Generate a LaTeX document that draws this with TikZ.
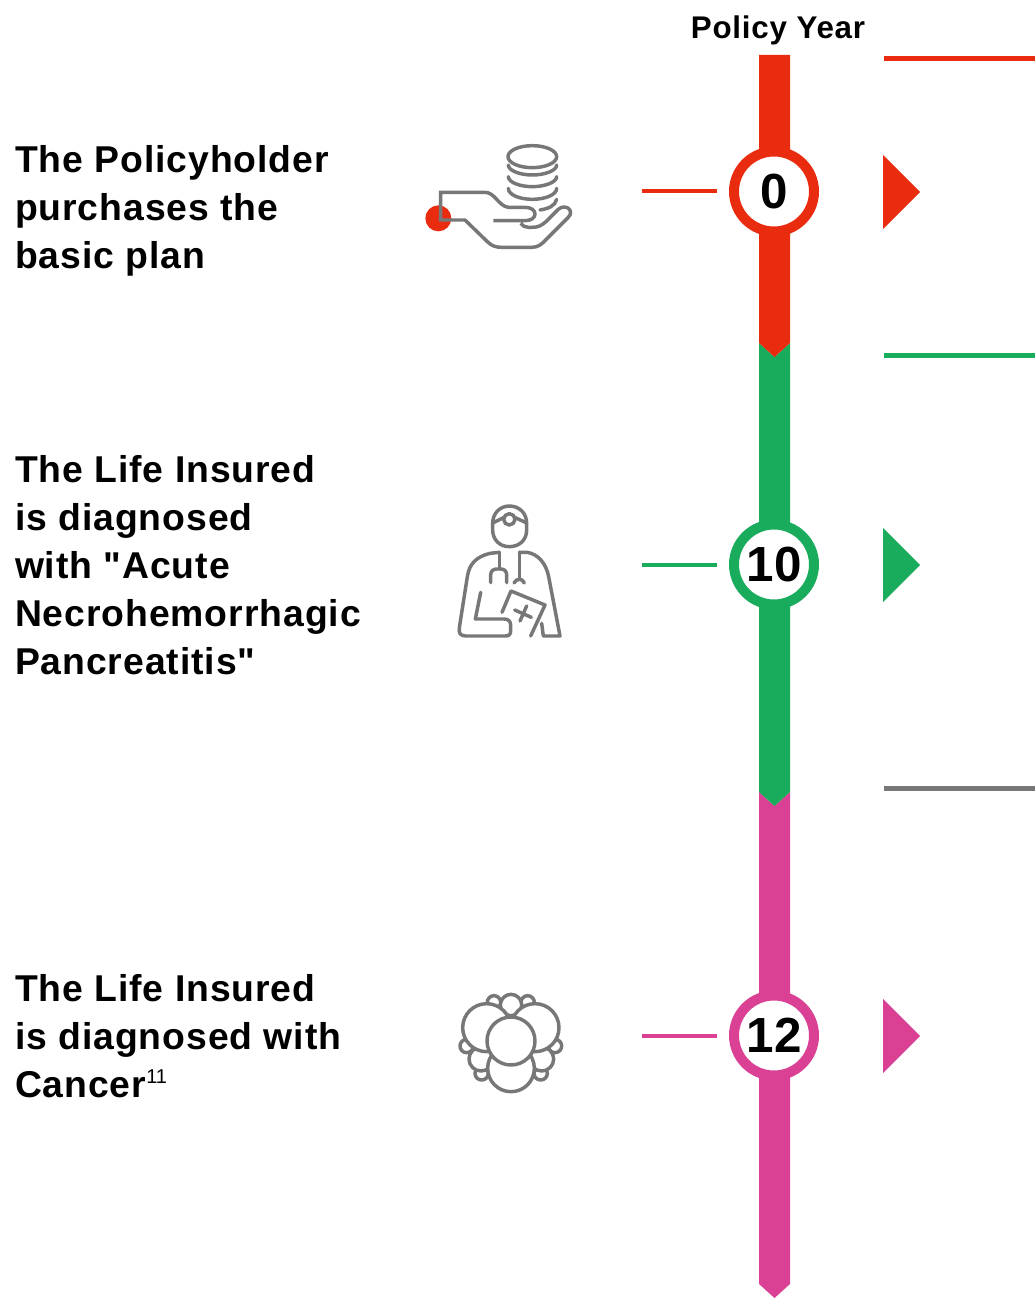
\documentclass[tikz,border=0pt]{standalone}
\usepackage{fontspec}
\setmainfont{Liberation Sans}[Ligatures=TeXOff,LetterSpace=2.5]
\definecolor{cred}{HTML}{E92C10}
\definecolor{cgreen}{HTML}{19AC5D}
\definecolor{cpink}{HTML}{DA4195}
\definecolor{cgray}{HTML}{777777}
\tikzset{
  lab/.style={anchor=north west,inner sep=0pt,outer sep=0pt,align=left,font=\fontsize{28}{36}\selectfont\bfseries,text=black},
  stopc/.style={circle,draw=#1,fill=white,line width=7.5pt,minimum size=60pt,inner sep=0pt,font=\fontsize{37}{40}\selectfont\bfseries\addfontfeature{LetterSpace=0},text=black},
  leader/.style={draw=#1,line width=3pt,shorten >=9pt},
  rule/.style={draw=#1,line width=3.8pt},
  tri/.style={fill=#1,draw=none},
  ico/.style={draw=cgray,line width=2.6pt,line cap=round,line join=round},
  blob/.style={ico,fill=white},
}
\begin{document}
\begin{tikzpicture}[x=0.75pt,y=-0.75pt]
\useasboundingbox (0,0) rectangle (1035,1298);
\fill[white] (0,0) rectangle (1035,1298);
% bars
\fill[cpink] (759,792)--(774.5,806)--(790,792)--(790,1284)--(774.5,1298)--(759,1284)--cycle;
\fill[cgreen] (759,343)--(774.5,357)--(790,343)--(790,792)--(774.5,806)--(759,792)--cycle;
\fill[cred] (759,55)--(790,55)--(790,343)--(774.5,357)--(759,343)--cycle;
% stops
\node[stopc=cred] (c0) at (774,191.5) {0};
\node[stopc=cgreen] (c1) at (774,564.5) {10};
\node[stopc=cpink] (c2) at (774,1035.5) {12};
\coordinate (l0) at (642,191.5);
\coordinate (l1) at (642,564.5);
\coordinate (l2) at (642,1035.5);
\draw[leader=cred] (l0) -- (c0.west);
\draw[leader=cgreen] (l1) -- (c1.west);
\draw[leader=cpink] (l2) -- (c2.west);
% right markers
\fill[tri=cred] (883,155)--(920,192)--(883,229)--cycle;
\fill[tri=cgreen] (883,528)--(920,565)--(883,602)--cycle;
\fill[tri=cpink] (883,999)--(920,1036)--(883,1073)--cycle;
\coordinate (r0a) at (884,58.5); \coordinate (r0b) at (1035,58.5);
\coordinate (r1a) at (884,355.5); \coordinate (r1b) at (1035,355.5);
\coordinate (r2a) at (884,788.5); \coordinate (r2b) at (1035,788.5);
\draw[rule=cred] (r0a) -- (r0b);
\draw[rule=cgreen] (r1a) -- (r1b);
\draw[rule=cgray] (r2a) -- (r2b);
% text
\node[anchor=center,inner sep=0pt,font=\fontsize{23.5}{28}\selectfont\bfseries] (py) at (778,30) {Policy Year};
\node[lab] (t0) at (15,145.5) {The Policyholder\\purchases the\\basic plan};
\node[lab] (t1) at (15,455.5) {The Life Insured\\is diagnosed\\with "Acute\\Necrohemorrhagic\\Pancreatitis"};
\node[lab] (t2) at (15,974.5) {The Life Insured\\is diagnosed with\\Cancer\raisebox{10.5pt}{\fontsize{15}{15}\selectfont\mdseries\addfontfeature{LetterSpace=0}11}};
% hand icon
\begin{scope}[shift={(410,130)},x=0.25pt,y=-0.25pt]
\fill[cred] (85,265) circle (39);
\draw[ico] (367,80) ellipse (73 and 33);
\draw[ico] (295,105) .. controls (295,122) and (330,135) .. (367,135) .. controls (404,135) and (440,122) .. (440,105);
\draw[ico] (295,140) .. controls (295,157) and (330,170) .. (367,170) .. controls (404,170) and (440,157) .. (440,140);
\draw[ico] (295,175) .. controls (295,195) and (330,208) .. (367,208) .. controls (404,208) and (440,195) .. (440,175);
\draw[ico] (390,240) .. controls (415,236) and (435,228) .. (440,208);
\draw[ico,line cap=butt,line join=miter] (250,272) -- (345,272) .. controls (385,272) and (385,232) .. (345,232) -- (295,232) .. controls (265,228) and (255,187) .. (225,187) -- (92,187) -- (92,270) -- (165,270) -- (232,335) .. controls (245,348) and (258,352) .. (275,352) -- (365,352) .. controls (385,352) and (395,342) .. (405,332) -- (475,262) .. controls (495,240) and (465,220) .. (445,238) -- (415,268) .. controls (395,288) and (385,292) .. (365,292) -- (355,292) .. controls (345,292) and (338,288) .. (332,280);
\end{scope}
% doctor icon
\begin{scope}[shift={(440,495)},x=0.25pt,y=-0.25pt]
\draw[ico] (158,85) .. controls (158,55) and (180,33) .. (208,33) .. controls (238,33) and (260,55) .. (260,85) -- (260,105) .. controls (260,135) and (238,155) .. (208,155) .. controls (180,155) and (158,135) .. (158,105) -- cycle;
\draw[ico] (208,73) circle (17);
\draw[ico] (160,83) -- (190,68);
\draw[ico] (226,68) -- (258,83);
\draw[ico] (178,172) -- (150,175) .. controls (110,185) and (88,205) .. (82,245) -- (58,398) .. controls (55,415) and (62,423) .. (78,423) -- (195,423) .. controls (207,423) and (212,418) .. (212,408) -- (212,392) .. controls (212,378) and (205,372) .. (192,372) -- (106,372) -- (122,292);
\draw[ico] (238,172) -- (262,172) .. controls (295,178) and (318,205) .. (326,245) -- (360,423) -- (310,423) -- (305,385);
\draw[ico] (178,172) -- (178,222);
\draw[ico] (152,263) -- (152,240) .. controls (152,228) and (160,222) .. (170,222) -- (183,222) .. controls (194,222) and (200,230) .. (200,240) -- (200,263);
\draw[ico] (238,172) -- (238,252);
\draw[ico] (222,264) .. controls (226,256) and (232,253) .. (238,253) .. controls (244,253) and (250,256) .. (253,264);
\draw[ico] (186,352) -- (213,288) -- (315,330) -- (272,423);
\draw[ico] (224,345) -- (274,367);
\draw[ico] (260,333) -- (240,378);
\end{scope}
% cells icon
\begin{scope}[shift={(445,985)},x=0.25pt,y=-0.25pt]
\draw[blob] (147,52) circle (20);
\draw[blob] (248,52) circle (20);
\draw[blob] (65,183) circle (20);
\draw[blob] (330,183) circle (20);
\draw[blob] (110,265) circle (20);
\draw[blob] (287,265) circle (20);
\draw[blob] (198,60) circle (32);
\draw[blob] (108,222) circle (36);
\draw[blob] (290,222) circle (36);
\draw[blob] (198,250) circle (70);
\draw[blob] (125,128) circle (72);
\draw[blob] (270,128) circle (72);
\draw[blob] (198,168) circle (72);
\end{scope}
\end{tikzpicture}
\end{document}
